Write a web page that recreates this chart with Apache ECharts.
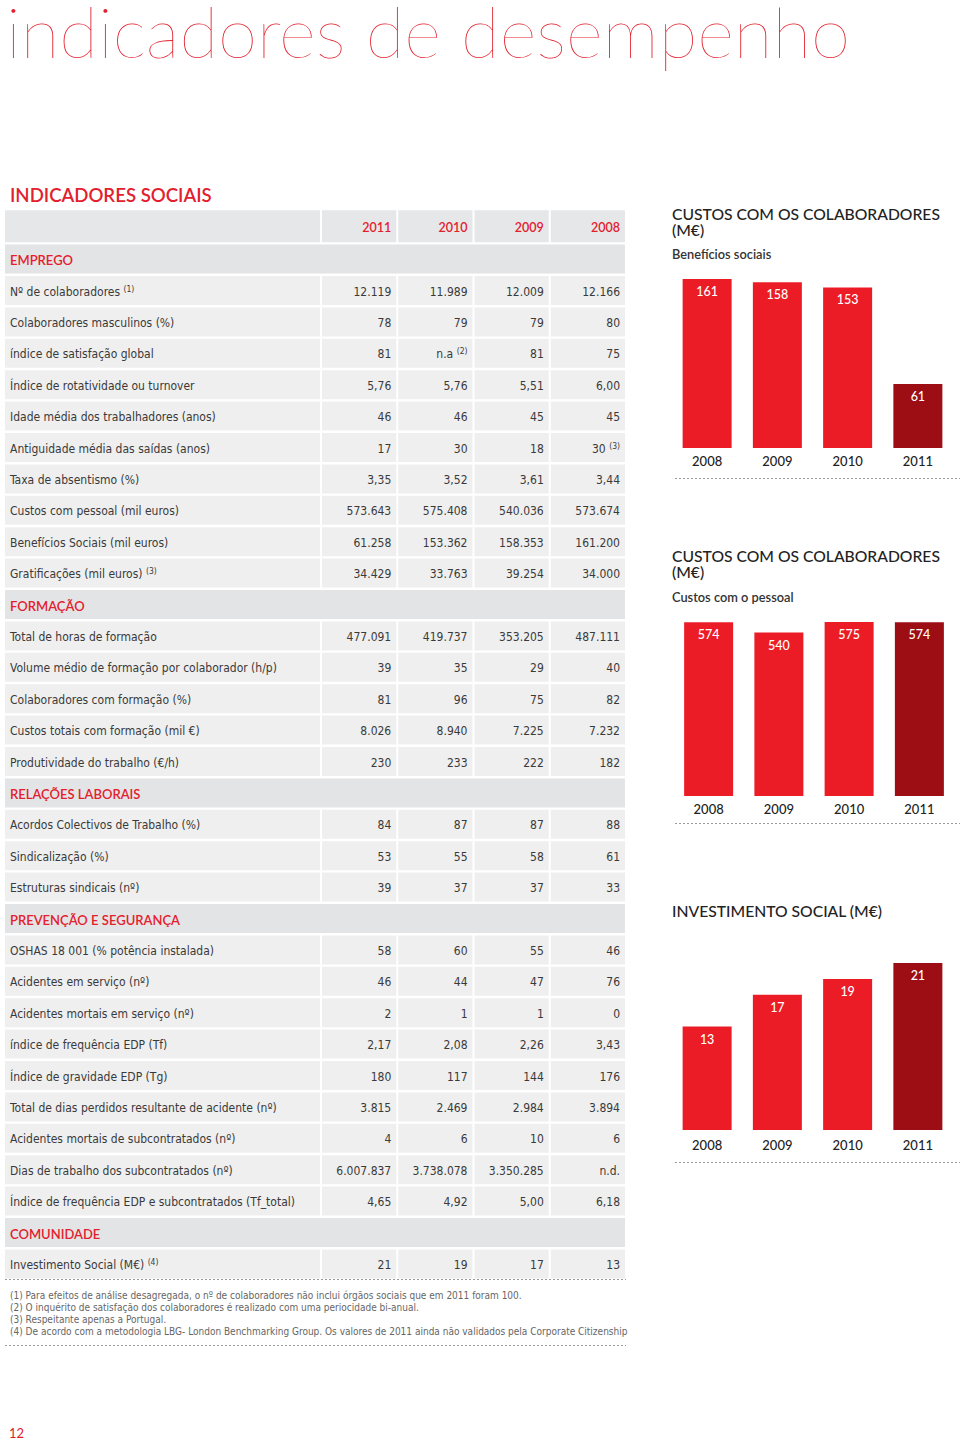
<!DOCTYPE html>
<html><head><meta charset="utf-8">
<script src="https://cdn.jsdelivr.net/npm/echarts@6/dist/echarts.min.js"></script>
<style>html,body{margin:0;padding:0;background:#fff}#c{width:960px;height:1440px}</style>
</head><body><div id="c"></div><script>
// ---------- DATA ----------
const tableYears = ['2011', '2010', '2009', '2008'];
const sectionNames = ['EMPREGO', 'FORMAÇÃO', 'RELAÇÕES LABORAIS', 'PREVENÇÃO E SEGURANÇA', 'COMUNIDADE'];

const empregoLabels = ['Nº de colaboradores^(1)', 'Colaboradores masculinos (%)', 'índice de satisfação global',
  'Índice de rotatividade ou turnover', 'Idade média dos trabalhadores (anos)', 'Antiguidade média das saídas (anos)',
  'Taxa de absentismo (%)', 'Custos com pessoal (mil euros)', 'Benefícios Sociais (mil euros)', 'Gratificações (mil euros)^(3)'];
const empregoValues = [
  ['12.119', '11.989', '12.009', '12.166'],
  ['78', '79', '79', '80'],
  ['81', 'n.a^(2)', '81', '75'],
  ['5,76', '5,76', '5,51', '6,00'],
  ['46', '46', '45', '45'],
  ['17', '30', '18', '30^(3)'],
  ['3,35', '3,52', '3,61', '3,44'],
  ['573.643', '575.408', '540.036', '573.674'],
  ['61.258', '153.362', '158.353', '161.200'],
  ['34.429', '33.763', '39.254', '34.000']
];
const formacaoLabels = ['Total de horas de formação', 'Volume médio de formação por colaborador (h/p)',
  'Colaboradores com formação (%)', 'Custos totais com formação (mil €)', 'Produtividade do trabalho (€/h)'];
const formacaoValues = [
  ['477.091', '419.737', '353.205', '487.111'],
  ['39', '35', '29', '40'],
  ['81', '96', '75', '82'],
  ['8.026', '8.940', '7.225', '7.232'],
  ['230', '233', '222', '182']
];
const relacoesLabels = ['Acordos Colectivos de Trabalho (%)', 'Sindicalização (%)', 'Estruturas sindicais (nº)'];
const relacoesValues = [
  ['84', '87', '87', '88'],
  ['53', '55', '58', '61'],
  ['39', '37', '37', '33']
];
const prevencaoLabels = ['OSHAS 18 001 (% potência instalada)', 'Acidentes em serviço (nº)', 'Acidentes mortais em serviço (nº)',
  'índice de frequência EDP (Tf)', 'Índice de gravidade EDP (Tg)', 'Total de dias perdidos resultante de acidente (nº)',
  'Acidentes mortais de subcontratados (nº)', 'Dias de trabalho dos subcontratados (nº)',
  'Índice de frequência EDP e subcontratados (Tf_total)'];
const prevencaoValues = [
  ['58', '60', '55', '46'],
  ['46', '44', '47', '76'],
  ['2', '1', '1', '0'],
  ['2,17', '2,08', '2,26', '3,43'],
  ['180', '117', '144', '176'],
  ['3.815', '2.469', '2.984', '3.894'],
  ['4', '6', '10', '6'],
  ['6.007.837', '3.738.078', '3.350.285', 'n.d.'],
  ['4,65', '4,92', '5,00', '6,18']
];
const comunidadeLabels = ['Investimento Social (M€)^(4)'];
const comunidadeValues = [['21', '19', '17', '13']];

const footnotes = [
  '(1) Para efeitos de análise desagregada, o nº de colaboradores não inclui órgãos sociais que em 2011 foram 100.',
  '(2) O inquérito de satisfação dos colaboradores é realizado com uma periocidade bi-anual.',
  '(3) Respeitante apenas a Portugal.',
  '(4) De acordo com a metodologia LBG- London Benchmarking Group. Os valores de 2011 ainda não validados pela Corporate Citizenship'
];

const chartYears = ['2008', '2009', '2010', '2011'];
const beneficiosSociais = [161, 158, 153, 61];
const custosPessoal = [574, 540, 575, 574];
const investimentoSocial = [13, 17, 19, 21];

// ---------- STYLE ----------
const RED = '#e3202d';
const BAR_RED = '#ec1c27';
const BAR_DARK = '#9c0d14';
const GEO = 'Lato, "Noto Sans", sans-serif';
const COND = '"Liberation Sans Narrow", "DejaVu Sans Condensed", Roboto, sans-serif';
const CELL = '#efefef';
const SECTION = '#e3e4e6';
const HEAD = '#e6e7e8';

// ---------- TABLE ROWS ----------
const tableRows = [{ kind: 'header' }];
const groups = [
  [empregoLabels, empregoValues], [formacaoLabels, formacaoValues], [relacoesLabels, relacoesValues],
  [prevencaoLabels, prevencaoValues], [comunidadeLabels, comunidadeValues]
];
groups.forEach((g, gi) => {
  tableRows.push({ kind: 'section', label: sectionNames[gi] });
  g[0].forEach((lab, ri) => tableRows.push({ kind: 'row', label: lab, values: g[1][ri] }));
});

function richText(s) {
  const k = s.indexOf('^');
  if (k < 0) return '{m|' + s + '}';
  return '{m|' + s.slice(0, k) + ' }{s|' + s.slice(k + 1) + '}';
}
const rowRich = {
  m: { fontFamily: COND, fontSize: 12, fill: '#3a3a3a', color: '#3a3a3a', lineHeight: 15 },
  s: { fontFamily: COND, fontSize: 8.5, fill: '#3a3a3a', color: '#3a3a3a', lineHeight: 9, verticalAlign: 'top' }
};

const LABEL_W = 315, GAP = 2;

function renderRow(params, api) {
  const i = api.value(0);
  const row = tableRows[i];
  const cs = params.coordSys;
  const yc = api.coord([0, i])[1];
  const bh = api.size([0, 1])[1];
  let top = yc - bh / 2 + 1.2, h = bh - 2.4;
  const x0 = cs.x, W = cs.width;
  const colW = (W - LABEL_W - 4 * GAP) / 4;
  const children = [];
  if (row.kind === 'section') {
    children.push({ type: 'rect', shape: { x: x0, y: top, width: W, height: h }, style: { fill: SECTION } });
    children.push({ type: 'text', style: { text: row.label, x: x0 + 5, y: yc + 1, align: 'left', verticalAlign: 'middle',
      fontFamily: GEO, fontSize: 13, fontWeight: 600, fill: RED } });
  } else {
    const isHead = row.kind === 'header';
    if (isHead) { top -= 3; h += 3; }
    const fill = isHead ? HEAD : CELL;
    children.push({ type: 'rect', shape: { x: x0, y: top, width: LABEL_W, height: h }, style: { fill: fill } });
    for (let c = 0; c < 4; c++) {
      const cx = x0 + LABEL_W + GAP + c * (colW + GAP);
      children.push({ type: 'rect', shape: { x: cx, y: top, width: colW, height: h }, style: { fill: fill } });
      if (isHead) {
        children.push({ type: 'text', style: { text: tableYears[c], x: cx + colW - 5, y: yc, align: 'right', verticalAlign: 'middle',
          fontFamily: GEO, fontSize: 12.5, fontWeight: 600, fill: RED } });
      } else {
        children.push({ type: 'text', style: { text: richText(row.values[c]), rich: rowRich, x: cx + colW - 5, y: yc + 1,
          align: 'right', verticalAlign: 'middle' } });
      }
    }
    if (!isHead) {
      children.push({ type: 'text', style: { text: richText(row.label), rich: rowRich, x: x0 + 5, y: yc + 1,
        align: 'left', verticalAlign: 'middle' } });
    }
  }
  return { type: 'group', children: children };
}

// ---------- BAR CHART HELPERS ----------
function barSeries(idx, values) {
  return {
    type: 'bar', xAxisIndex: idx, yAxisIndex: idx, data: values, barWidth: 49,
    itemStyle: { color: p => p.dataIndex === chartYears.length - 1 ? BAR_DARK : BAR_RED },
    label: { show: true, position: 'insideTop', distance: 6, color: '#fff', fontFamily: GEO, fontSize: 12.5, fontWeight: 500 },
    silent: true
  };
}
function catAxis(idx, margin) {
  return { type: 'category', gridIndex: idx, data: chartYears, axisLine: { show: false }, axisTick: { show: false },
    axisLabel: { color: '#222', fontFamily: GEO, fontSize: 13, fontWeight: 500, margin: margin } };
}
function valAxis(idx) {
  return { type: 'value', gridIndex: idx, min: 0, max: 'dataMax', show: false, splitLine: { show: false } };
}

const dotted = (x1, x2, y) => ({ type: 'line', shape: { x1: x1, y1: y, x2: x2, y2: y },
  style: { stroke: '#9a9a9a', lineWidth: 1, lineDash: [2, 2] }, silent: true });
const txt = (text, x, y, font, fill, extra) => Object.assign({ type: 'text', x: x, y: y, silent: true,
  style: Object.assign({ text: text, font: font, fill: fill, align: 'left', verticalAlign: 'middle' }, extra || {}) });

const graphics = [
  txt('indicadores de desempenho', 6, -5, '200 71px ' + GEO, RED, { verticalAlign: 'top' }),
  txt('INDICADORES SOCIAIS', 10, 195, '600 18.6px ' + GEO, RED),
  txt('CUSTOS COM OS COLABORADORES\n(M€)', 672, 222, '500 15.7px ' + GEO, '#222', { lineHeight: 16 }),
  txt('Benefícios sociais', 672, 254, '600 12.8px ' + GEO, '#333'),
  txt('CUSTOS COM OS COLABORADORES\n(M€)', 672, 564, '500 15.7px ' + GEO, '#222', { lineHeight: 16 }),
  txt('Custos com o pessoal', 672, 597, '600 12.8px ' + GEO, '#333'),
  txt('INVESTIMENTO SOCIAL (M€)', 672, 911, '500 15.7px ' + GEO, '#222'),
  dotted(675, 960, 478.5), dotted(675, 960, 823.5), dotted(675, 960, 1162.5),
  dotted(5, 626, 1279.5), dotted(5, 626, 1345.5),
  txt(footnotes.join('\n'), 10, 1313, '10px ' + COND, '#666', { lineHeight: 12 }),
  txt('12', 9, 1433, '13px ' + GEO, RED)
];

const option = {
  animation: false,
  backgroundColor: '#fff',
  grid: [
    { left: 5, top: 212, width: 620, height: 1067.6 },
    { left: 672, top: 279, width: 281, height: 169 },
    { left: 673.5, top: 622, width: 281, height: 174 },
    { left: 672, top: 963, width: 281, height: 167 }
  ],
  xAxis: [
    { type: 'value', gridIndex: 0, min: 0, max: 1, show: false },
    catAxis(1, 6), catAxis(2, 6), catAxis(3, 8)
  ],
  yAxis: [
    { type: 'category', gridIndex: 0, inverse: true, data: tableRows.map((r, i) => String(i)), show: false },
    valAxis(1), valAxis(2), valAxis(3)
  ],
  series: [
    { type: 'custom', xAxisIndex: 0, yAxisIndex: 0, data: tableRows.map((r, i) => [i]), encode: { y: 0 },
      renderItem: renderRow, silent: true },
    barSeries(1, beneficiosSociais),
    barSeries(2, custosPessoal),
    barSeries(3, investimentoSocial)
  ],
  graphic: graphics
};

const chart = echarts.init(document.getElementById('c'), null, { renderer: 'svg' });
chart.setOption(option);
</script></body></html>
